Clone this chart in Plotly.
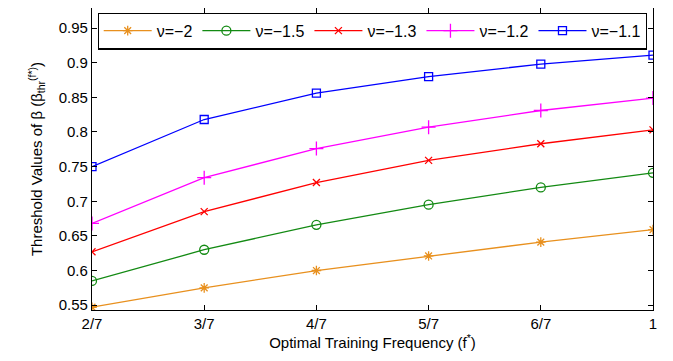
import plotly.graph_objects as go

x_vals = [2/7, 3/7, 4/7, 5/7, 6/7, 1.0]
x_labels = ["2/7", "3/7", "4/7", "5/7", "6/7", "1"]

nu_m2 = [0.547, 0.575, 0.600, 0.621, 0.641, 0.659]
nu_m15 = [0.585, 0.630, 0.666, 0.695, 0.720, 0.741]
nu_m13 = [0.627, 0.685, 0.727, 0.759, 0.783, 0.803]
nu_m12 = [0.668, 0.734, 0.776, 0.807, 0.831, 0.849]
nu_m11 = [0.750, 0.818, 0.856, 0.880, 0.898, 0.911]

series = [
    ("ν=−2", nu_m2, "#E8901E", "asterisk-open", 8),
    ("ν=−1.5", nu_m15, "#138A13", "circle-open", 9),
    ("ν=−1.3", nu_m13, "#FF0000", "x-thin-open", 7),
    ("ν=−1.2", nu_m12, "#FF00FF", "cross-thin-open", 10),
    ("ν=−1.1", nu_m11, "#0000FF", "square-open", 8),
]

fig = go.Figure()
for name, ys, color, sym, size in series:
    fig.add_trace(go.Scatter(
        x=x_vals, y=ys, name=name, mode="lines+markers",
        line=dict(color=color, width=1.3),
        marker=dict(symbol=sym, size=size, color=color, line=dict(color=color, width=1.3)),
    ))

axis_common = dict(
    showline=True, linecolor="black", linewidth=1.2, mirror="ticks",
    ticks="inside", ticklen=5, tickcolor="black", showgrid=False, zeroline=False,
    tickfont=dict(size=15, color="black"),
)
fig.update_xaxes(
    range=[2/7, 1.0], tickvals=x_vals, ticktext=x_labels,
    title=dict(text="Optimal Training Frequency (f<sup>*</sup>)", font=dict(size=15, color="black"), standoff=2),
    **axis_common,
)
fig.update_yaxes(
    range=[0.543, 0.979], tickvals=[0.55, 0.6, 0.65, 0.7, 0.75, 0.8, 0.85, 0.9, 0.95],
    ticktext=["0.55", "0.6", "0.65", "0.7", "0.75", "0.8", "0.85", "0.9", "0.95"],
    title=dict(text="Threshold Values of β (β<sub>thr</sub><sup>(f*)</sup>)", font=dict(size=15, color="black"), standoff=12),
    **axis_common,
)
fig.update_layout(
    width=665, height=353,
    margin=dict(l=84, r=20, t=0, b=51),
    paper_bgcolor="white", plot_bgcolor="white",
    font=dict(family="Liberation Sans, Arial, sans-serif", color="black"),
    showlegend=True,
    legend=dict(
        orientation="h", x=0.5, xanchor="center", y=0.985, yanchor="top",
        bgcolor="white", bordercolor="black", borderwidth=1.2,
        font=dict(size=16, color="black"), itemwidth=48, tracegroupgap=0,
    ),
)
fig.write_html("out.html")
